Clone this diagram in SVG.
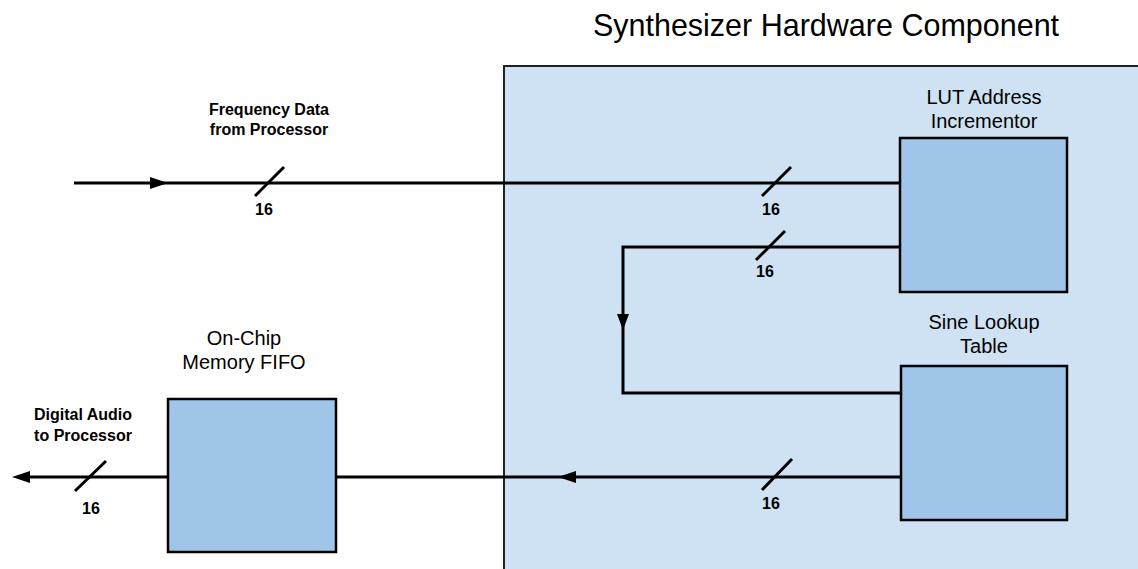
<svg xmlns="http://www.w3.org/2000/svg" width="1138" height="569" viewBox="0 0 1138 569">
<defs>
<style>
.big{font-family:"Liberation Sans",Arial,sans-serif;font-size:20px;fill:#000;text-anchor:middle}
.small{font-family:"Liberation Sans",Arial,sans-serif;font-size:16px;font-weight:bold;fill:#000;text-anchor:middle}
.title{font-family:"Liberation Sans",Arial,sans-serif;font-size:30.5px;fill:#000;text-anchor:middle}
.box{fill:#9fc5e8;stroke:#000;stroke-width:2.5}
.wire{fill:none;stroke:#000;stroke-width:3}
.slash{stroke:#000;stroke-width:3}
</style>
</defs>
<rect width="1138" height="569" fill="#fff"/>
<g id="container">
<rect x="504" y="66" width="640" height="510" fill="#cfe2f3" stroke="#222" stroke-width="2"/>
<text class="title" x="826" y="36">Synthesizer Hardware Component</text>
</g>
<g id="connectors">
<line class="wire" x1="74" y1="183" x2="902" y2="183"/>
<path d="M150,177 L168,183 L150,189 z" fill="#000"/>
<line class="slash" x1="255" y1="196" x2="284" y2="167"/>
<line class="slash" x1="762" y1="196" x2="791" y2="167"/>
<polyline class="wire" points="903,247 623,247 623,393 903,393"/>
<path d="M617,314 L623,330 L629,314 z" fill="#000"/>
<line class="slash" x1="756" y1="260" x2="785" y2="231"/>
<line class="wire" x1="901" y1="477" x2="336" y2="477"/>
<path d="M576,471 L558,477 L576,483 z" fill="#000"/>
<line class="slash" x1="762" y1="490" x2="792" y2="459"/>
<line class="wire" x1="168" y1="477" x2="26" y2="477"/>
<path d="M30,471 L12,477 L30,483 z" fill="#000"/>
<line class="slash" x1="75" y1="491" x2="106" y2="461"/>
<text class="small" x="269" y="115">Frequency Data</text>
<text class="small" x="269" y="135">from Processor</text>
<text class="small" x="83" y="420">Digital Audio</text>
<text class="small" x="83" y="441">to Processor</text>
<text class="small" x="264" y="215">16</text>
<text class="small" x="771" y="215">16</text>
<text class="small" x="765" y="277">16</text>
<text class="small" x="771" y="509">16</text>
<text class="small" x="91" y="514">16</text>
</g>
<g id="lut">
<rect class="box" x="900" y="138" width="167" height="154"/>
<text class="big" x="984" y="104">LUT Address</text>
<text class="big" x="984" y="128">Incrementor</text>
</g>
<g id="sine">
<rect class="box" x="901" y="366" width="166" height="154"/>
<text class="big" x="984" y="329">Sine Lookup</text>
<text class="big" x="984" y="353">Table</text>
</g>
<g id="fifo">
<rect class="box" x="168" y="399" width="168" height="153"/>
<text class="big" x="244" y="345">On-Chip</text>
<text class="big" x="244" y="369">Memory FIFO</text>
</g>
</svg>
